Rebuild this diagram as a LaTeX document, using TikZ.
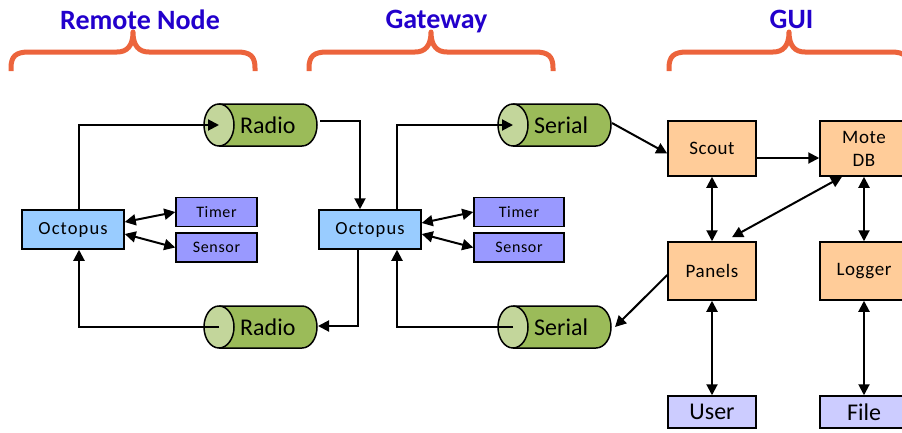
\documentclass[tikz,border=0pt]{standalone}
\usepackage{fontspec}
\setmainfont{Carlito}
\usetikzlibrary{arrows.meta,calc}
\definecolor{octblue}{HTML}{99CCFF}
\definecolor{periw}{HTML}{9999FF}
\definecolor{peach}{HTML}{FFCC99}
\definecolor{lav}{HTML}{CCCCFF}
\definecolor{cylbody}{HTML}{9BBB59}
\definecolor{cylface}{HTML}{C3D69B}
\definecolor{titleblue}{RGB}{34,0,204}
\definecolor{braceor}{RGB}{236,100,60}
\tikzset{
  arr/.style={line width=2pt,-{Triangle[length=11pt,width=11pt]}},
  darr/.style={line width=2pt,{Triangle[length=11pt,width=11pt]}-{Triangle[length=11pt,width=11pt]}},
  box/.style={draw=black,line width=1.5pt,rectangle,inner sep=0pt,align=center},
  octbox/.style={box,fill=octblue,minimum width=102pt,minimum height=39pt,font=\fontsize{18.5}{22}\selectfont\addfontfeatures{LetterSpace=6}},
  devbox/.style={box,fill=periw,minimum height=29pt,font=\fontsize{16}{18}\selectfont\addfontfeatures{LetterSpace=4}},
  guibox/.style={box,fill=peach,minimum width=88pt,font=\fontsize{19}{23}\selectfont\addfontfeatures{LetterSpace=3}},
  iobox/.style={box,fill=lav,minimum width=88pt,minimum height=32pt,font=\fontsize{24}{28}\selectfont},
  title/.style={text=titleblue,font=\bfseries\fontsize{28}{32}\selectfont,anchor=base,inner sep=0pt},
  brace/.style={draw=braceor,line width=5pt,line join=round},
  cyltext/.style={anchor=west,inner sep=0pt,font=\fontsize{24}{28}\selectfont},
}
\newcommand\drawcyl[4]{%
  \fill[cylbody] (#2,#3+21) -- (#2+83,#3+21) arc[start angle=90,end angle=-90,x radius=15,y radius=21] -- (#2,#3-21) -- cycle;
  \draw[line width=1.5pt] (#2,#3+21) -- (#2+83,#3+21) arc[start angle=90,end angle=-90,x radius=15,y radius=21] -- (#2,#3-21);
  \filldraw[fill=cylface,line width=1.5pt] (#2,#3) ellipse[x radius=15,y radius=21];
  \coordinate (#1-face) at (#2,#3);
  \node[cyltext] (#1) at (#2+21,#3) {#4};
}
\newcommand\drawbrace[3]{%
  \draw[brace] (#1,-71) -- (#1,-68) .. controls (#1,-56) and (#1+5,-52) .. (#1+18,-52) -- (#2-16,-52) .. controls (#2-6,-52) and (#2,-46) .. (#2,-32) .. controls (#2,-46) and (#2+6,-52) .. (#2+16,-52) -- (#3-18,-52) .. controls (#3-5,-52) and (#3,-56) .. (#3,-68) -- (#3,-71);
}
\begin{document}
\begin{tikzpicture}[x=1pt,y=1pt]
\useasboundingbox (0,0) rectangle (902,-432);
\clip (0,0) rectangle (902,-432);

% titles and braces
\node[title] (t1) at (140,-29) {Remote Node};
\node[title] (t2) at (436.5,-28) {Gateway};
\node[title] (t3) at (791.5,-28) {GUI};
\drawbrace{11}{133}{255}
\drawbrace{309}{431}{553}
\drawbrace{669}{789}{909}

% cylinders
\drawcyl{rt}{219}{-125}{Radio}
\drawcyl{rb}{219}{-327}{Radio}
\drawcyl{st}{513}{-125}{Serial}
\drawcyl{sb}{513}{-327}{Serial}

% boxes
\node[octbox] (oct1) at (73,-229.5) {Octopus};
\node[devbox,minimum width=81pt] (timer1) at (216.5,-212) {Timer};
\node[devbox,minimum width=81pt] (sensor1) at (216.5,-247.5) {Sensor};
\node[octbox] (oct2) at (370,-229.5) {Octopus};
\node[devbox,minimum width=90pt] (timer2) at (519,-212) {Timer};
\node[devbox,minimum width=90pt] (sensor2) at (519,-247.5) {Sensor};
\node[guibox,minimum height=55pt] (scout) at (712,-148.5) {Scout};
\node[guibox,minimum height=55pt] (mote) at (864,-148.5) {Mote\\DB};
\node[guibox,minimum height=58pt] (panels) at (712,-271) {Panels};
\node[guibox,minimum height=58pt] (logger) at (864,-271) {Logger};
\node[iobox] (user) at (712,-412) {User};
\node[iobox] (file) at (864,-412) {File};

% free ends
\coordinate (rt-out) at (320,-121);
\coordinate (rb-in) at (318,-326);
\coordinate (st-out) at (612,-123);
\coordinate (sb-in) at (615,-327);

% remote node
\draw[arr] ([xshift=6pt]oct1.north) |- (rt-face);
\draw[arr] (rb-face) -| ([xshift=6pt]oct1.south);
\draw[darr] ([yshift=7.5pt]oct1.east) -- (timer1.west);
\draw[darr] ([yshift=-4.5pt]oct1.east) -- (sensor1.west);

% gateway
\draw[arr] (rt-out) -| ([xshift=-10pt]oct2.north);
\draw[arr] ([xshift=-12pt]oct2.south) |- (rb-in);
\draw[arr] ([xshift=27pt]oct2.north) |- (st-face);
\draw[arr] (sb-face) -| ([xshift=27pt]oct2.south);
\draw[darr] ([yshift=6.5pt]oct2.east) -- (timer2.west);
\draw[darr] ([yshift=-4.5pt]oct2.east) -- (sensor2.west);

% gui
\draw[arr] (st-out) -- ([yshift=-5pt]scout.west);
\draw[arr] ([yshift=-9.5pt]scout.east) -- ([yshift=-9.5pt]mote.west);
\draw[darr] (scout.south) -- (panels.north);
\draw[darr] ([xshift=-22pt]mote.south) -- ([xshift=20pt,yshift=4pt]panels.north);
\draw[darr] (mote.south) -- (logger.north);
\draw[arr] ([yshift=-4pt]panels.west) -- (sb-in);
\draw[darr] (panels.south) -- (user.north);
\draw[darr] (logger.south) -- (file.north);
\end{tikzpicture}
\end{document}
